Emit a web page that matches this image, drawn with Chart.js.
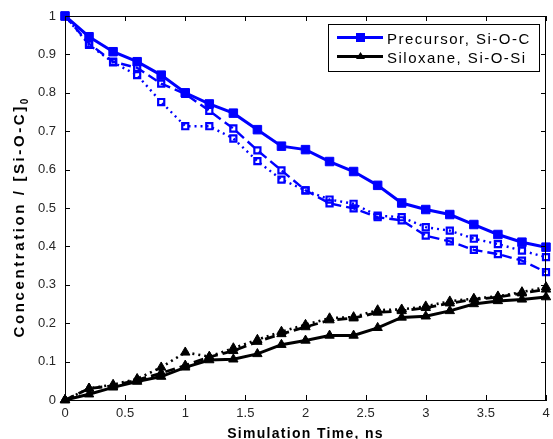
<!DOCTYPE html>
<html><head><meta charset="utf-8">
<script src="https://cdn.jsdelivr.net/npm/chart.js@4/dist/chart.umd.min.js"></script>
<style>html,body{margin:0;padding:0;background:#fff;overflow:hidden}</style>
</head><body>
<canvas id="c" width="553" height="439" style="display:block;width:553px;height:439px"></canvas>
<script>
// ---- data ----
const time = [0, 0.2, 0.4, 0.6, 0.8, 1.0, 1.2, 1.4, 1.6, 1.8, 2.0, 2.2, 2.4, 2.6, 2.8, 3.0, 3.2, 3.4, 3.6, 3.8, 4.0];
const precursorSolid  = [1.000, 0.946, 0.907, 0.881, 0.846, 0.800, 0.771, 0.747, 0.704, 0.661, 0.652, 0.621, 0.595, 0.559, 0.513, 0.496, 0.483, 0.457, 0.431, 0.411, 0.398];
const precursorDashed = [1.000, 0.928, 0.881, 0.865, 0.824, 0.797, 0.753, 0.707, 0.650, 0.598, 0.546, 0.512, 0.499, 0.476, 0.468, 0.428, 0.413, 0.391, 0.380, 0.363, 0.333];
const precursorDotted = [1.000, 0.925, 0.879, 0.846, 0.776, 0.713, 0.713, 0.681, 0.622, 0.574, 0.546, 0.522, 0.511, 0.480, 0.476, 0.450, 0.441, 0.420, 0.406, 0.389, 0.372];
const siloxaneSolid   = [0.000, 0.015, 0.033, 0.048, 0.061, 0.085, 0.104, 0.106, 0.120, 0.144, 0.155, 0.168, 0.168, 0.188, 0.215, 0.218, 0.232, 0.250, 0.258, 0.262, 0.268];
const siloxaneDashed  = [0.000, 0.030, 0.037, 0.052, 0.070, 0.090, 0.112, 0.128, 0.152, 0.172, 0.190, 0.208, 0.213, 0.228, 0.232, 0.240, 0.252, 0.262, 0.268, 0.278, 0.288];
const siloxaneDotted  = [0.000, 0.030, 0.040, 0.055, 0.085, 0.124, 0.113, 0.135, 0.157, 0.178, 0.196, 0.213, 0.216, 0.234, 0.236, 0.244, 0.257, 0.264, 0.270, 0.281, 0.294];
const xTickLabels = ['0', '0.5', '1', '1.5', '2', '2.5', '3', '3.5', '4'];
const yTickLabels = ['0', '0.1', '0.2', '0.3', '0.4', '0.5', '0.6', '0.7', '0.8', '0.9', '1'];
const legendLabels = ['Precursor, Si-O-C', 'Siloxane, Si-O-Si'];
const xTitle = 'Simulation Time, ns';
const yTitle = 'Concentration / [Si-O-C]';
const yTitleSub = '0';

const BLUE = '#0000ff', BLACK = '#000000';
const pts = arr => arr.map((v, i) => ({x: time[i], y: v}));

function series(values, color, dash, style, radius, filled, width) {
  return {
    data: pts(values),
    borderColor: color,
    borderWidth: width,
    borderDash: dash,
    tension: 0,
    pointStyle: style,
    pointRadius: radius,
    pointHoverRadius: radius,
    pointBorderColor: color,
    pointBackgroundColor: filled ? color : 'rgba(0,0,0,0)',
    pointBorderWidth: filled ? 1 : 2.2,
    clip: false
  };
}

const datasets = [
  series(precursorSolid,  BLUE,  [],     'rect', 6.0, true,  3.0),
  series(precursorDashed, BLUE,  [10,5], 'rect', 4.3, false, 2.4),
  series(precursorDotted, BLUE,  [2,4],  'rect', 4.3, false, 2.4),
  series(siloxaneSolid,   BLACK, [],     'triangle', 5.4, true, 3.0),
  series(siloxaneDashed,  BLACK, [10,5], 'triangle', 5.4, true, 2.8),
  series(siloxaneDotted,  BLACK, [2,4],  'triangle', 5.4, true, 2.6)
];

const framePlugin = {
  id: 'frame',
  afterDatasetsDraw(chart) {
    const {ctx, chartArea: a, scales: {x, y}} = chart;
    ctx.save();
    ctx.strokeStyle = '#000';
    ctx.lineWidth = 1;
    ctx.beginPath();
    ctx.moveTo(a.left, a.top + 0.5); ctx.lineTo(a.right, a.top + 0.5);
    ctx.moveTo(a.right - 0.5, a.top); ctx.lineTo(a.right - 0.5, a.bottom);
    x.ticks.forEach(t => {
      const px = Math.round(x.getPixelForValue(t.value)) + 0.5;
      ctx.moveTo(px, a.bottom); ctx.lineTo(px, a.bottom - 5);
      ctx.moveTo(px, a.top); ctx.lineTo(px, a.top + 5);
    });
    y.ticks.forEach(t => {
      const py = Math.round(y.getPixelForValue(t.value)) + 0.5;
      ctx.moveTo(a.left, py); ctx.lineTo(a.left + 5, py);
      ctx.moveTo(a.right, py); ctx.lineTo(a.right - 5, py);
    });
    ctx.stroke();

    // legend
    const lx = 328.5, ly = 24.5, lw = 211, lh = 47;
    ctx.fillStyle = '#fff';
    ctx.fillRect(lx, ly, lw, lh);
    ctx.strokeRect(lx, ly, lw, lh);
    const rows = [
      {ly: 37.5, ty: 43.5, color: BLUE, marker: 'rect'},
      {ly: 56.5, ty: 62.5, color: BLACK, marker: 'triangle'}
    ];
    rows.forEach((r, i) => {
      ctx.strokeStyle = r.color;
      ctx.fillStyle = r.color;
      ctx.lineWidth = 2.8;
      ctx.setLineDash([]);
      ctx.beginPath();
      ctx.moveTo(337, r.ly); ctx.lineTo(383, r.ly);
      ctx.stroke();
      ctx.beginPath();
      if (r.marker === 'rect') {
        ctx.rect(356, r.ly - 4.5, 9, 9);
      } else {
        ctx.moveTo(360.5, r.ly - 4.5); ctx.lineTo(365, r.ly + 2.5); ctx.lineTo(356, r.ly + 2.5); ctx.closePath();
      }
      ctx.fill();
      ctx.fillStyle = '#000';
      ctx.font = '15px "Liberation Sans", Arial, sans-serif';
      ctx.letterSpacing = '1.5px';
      ctx.textAlign = 'left';
      ctx.textBaseline = 'alphabetic';
      ctx.fillText(legendLabels[i], 387, r.ty);
    });
    ctx.restore();
  },
  afterDraw(chart) {
    const {ctx, chartArea: a} = chart;
    ctx.save();
    ctx.fillStyle = '#000';
    // x title
    ctx.font = 'bold 14px "Liberation Sans", Arial, sans-serif';
    ctx.letterSpacing = '1.3px';
    ctx.textAlign = 'center';
    ctx.textBaseline = 'alphabetic';
    ctx.fillText(xTitle, (a.left + a.right) / 2, 437.5);
    // y title, rotated
    ctx.translate(24, 218);
    ctx.rotate(-Math.PI / 2);
    ctx.textAlign = 'left';
    ctx.font = 'bold 15px "Liberation Sans", Arial, sans-serif';
    ctx.letterSpacing = '2.6px';
    const w1 = ctx.measureText(yTitle).width;
    ctx.font = 'bold 10px "Liberation Sans", Arial, sans-serif';
    ctx.letterSpacing = '0px';
    const w2 = ctx.measureText(yTitleSub).width;
    const start = -(w1 + w2) / 2;
    ctx.font = 'bold 15px "Liberation Sans", Arial, sans-serif';
    ctx.letterSpacing = '2.6px';
    ctx.fillText(yTitle, start, 0);
    ctx.font = 'bold 10px "Liberation Sans", Arial, sans-serif';
    ctx.letterSpacing = '0px';
    ctx.fillText(yTitleSub, start + w1, 3.5);
    ctx.restore();
  }
};

new Chart(document.getElementById('c'), {
  type: 'line',
  data: {datasets},
  options: {
    responsive: false,
    devicePixelRatio: 1,
    animation: false,
    events: [],
    layout: {padding: {top: 16, right: 1, left: 0, bottom: 0}},
    plugins: {legend: {display: false}, tooltip: {enabled: false}},
    scales: {
      x: {
        type: 'linear', min: 0, max: 4,
        grid: {display: false, drawTicks: false},
        border: {display: true, color: '#000', width: 1},
        ticks: {
          stepSize: 0.5, autoSkip: false, maxRotation: 0, padding: 6,
          color: '#262626',
          font: {family: '"Liberation Sans", Arial, sans-serif', size: 13},
          callback: (v, i) => xTickLabels[i]
        },
        afterFit(s) { s.height = 39; s.paddingLeft = 0; s.paddingRight = 0; }
      },
      y: {
        type: 'linear', min: 0, max: 1,
        grid: {display: false, drawTicks: false},
        border: {display: true, color: '#000', width: 1},
        ticks: {
          stepSize: 0.1, autoSkip: false, padding: 9,
          color: '#262626',
          font: {family: '"Liberation Sans", Arial, sans-serif', size: 13},
          callback: (v, i) => yTickLabels[i]
        },
        afterFit(s) { s.width = 65; s.paddingTop = 0; s.paddingBottom = 0; }
      }
    }
  },
  plugins: [framePlugin]
});
</script>
</body></html>
